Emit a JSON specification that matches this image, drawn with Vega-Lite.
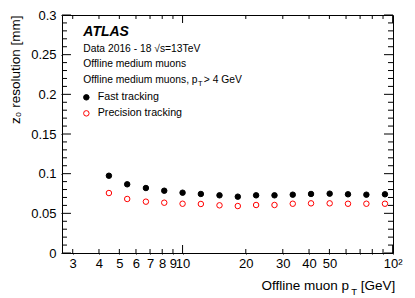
{
  "$schema": "https://vega.github.io/schema/vega-lite/v6.json",
  "width": 331,
  "height": 238,
  "autosize": {"type": "none"},
  "padding": {"left": 62, "top": 15, "right": 22, "bottom": 45},
  "background": "white",
  "config": {
    "font": "Liberation Sans",
    "view": {"stroke": "black", "strokeWidth": 1},
    "axis": {"domain": false, "grid": false, "ticks": true, "tickColor": "black", "tickWidth": 1, "labelColor": "black", "titleColor": "black", "labelFont": "Liberation Sans", "titleFont": "Liberation Sans", "titleFontWeight": "normal"}
  },
  "datasets": {
    "pts": [
      {"pt": 4.46, "res": 0.0974, "series": "Fast tracking"},
      {"pt": 5.45, "res": 0.0866, "series": "Fast tracking"},
      {"pt": 6.69, "res": 0.0819, "series": "Fast tracking"},
      {"pt": 8.18, "res": 0.0785, "series": "Fast tracking"},
      {"pt": 10.0, "res": 0.0760, "series": "Fast tracking"},
      {"pt": 12.22, "res": 0.0744, "series": "Fast tracking"},
      {"pt": 14.99, "res": 0.0727, "series": "Fast tracking"},
      {"pt": 18.32, "res": 0.0710, "series": "Fast tracking"},
      {"pt": 22.39, "res": 0.0727, "series": "Fast tracking"},
      {"pt": 27.39, "res": 0.0727, "series": "Fast tracking"},
      {"pt": 33.46, "res": 0.0735, "series": "Fast tracking"},
      {"pt": 40.88, "res": 0.0744, "series": "Fast tracking"},
      {"pt": 50.15, "res": 0.0748, "series": "Fast tracking"},
      {"pt": 61.3, "res": 0.0740, "series": "Fast tracking"},
      {"pt": 74.99, "res": 0.0735, "series": "Fast tracking"},
      {"pt": 91.93, "res": 0.0740, "series": "Fast tracking"},
      {"pt": 4.46, "res": 0.0756, "series": "Precision tracking"},
      {"pt": 5.45, "res": 0.0681, "series": "Precision tracking"},
      {"pt": 6.69, "res": 0.0647, "series": "Precision tracking"},
      {"pt": 8.18, "res": 0.0634, "series": "Precision tracking"},
      {"pt": 10.0, "res": 0.0621, "series": "Precision tracking"},
      {"pt": 12.22, "res": 0.0618, "series": "Precision tracking"},
      {"pt": 14.99, "res": 0.0601, "series": "Precision tracking"},
      {"pt": 18.32, "res": 0.0592, "series": "Precision tracking"},
      {"pt": 22.39, "res": 0.0605, "series": "Precision tracking"},
      {"pt": 27.39, "res": 0.0605, "series": "Precision tracking"},
      {"pt": 33.46, "res": 0.0621, "series": "Precision tracking"},
      {"pt": 40.88, "res": 0.0626, "series": "Precision tracking"},
      {"pt": 50.15, "res": 0.0626, "series": "Precision tracking"},
      {"pt": 61.3, "res": 0.0621, "series": "Precision tracking"},
      {"pt": 74.99, "res": 0.0621, "series": "Precision tracking"},
      {"pt": 91.93, "res": 0.0621, "series": "Precision tracking"}
    ],
    "xt": [
      {"v": 3}, {"v": 4}, {"v": 5}, {"v": 6}, {"v": 7}, {"v": 8}, {"v": 9}, {"v": 10},
      {"v": 20}, {"v": 30}, {"v": 40}, {"v": 50}, {"v": 60}, {"v": 70}, {"v": 80}, {"v": 90}, {"v": 100}
    ],
    "yt": [
      {"v": 0}, {"v": 0.01}, {"v": 0.02}, {"v": 0.03}, {"v": 0.04}, {"v": 0.05}, {"v": 0.06}, {"v": 0.07}, {"v": 0.08}, {"v": 0.09},
      {"v": 0.1}, {"v": 0.11}, {"v": 0.12}, {"v": 0.13}, {"v": 0.14}, {"v": 0.15}, {"v": 0.16}, {"v": 0.17}, {"v": 0.18}, {"v": 0.19},
      {"v": 0.2}, {"v": 0.21}, {"v": 0.22}, {"v": 0.23}, {"v": 0.24}, {"v": 0.25}, {"v": 0.26}, {"v": 0.27}, {"v": 0.28}, {"v": 0.29}, {"v": 0.3}
    ],
    "one": [{}]
  },
  "layer": [
    {
      "data": {"name": "pts"},
      "mark": {"type": "point", "shape": "circle", "size": 30, "strokeWidth": 1, "opacity": 1},
      "encoding": {
        "x": {
          "field": "pt", "type": "quantitative",
          "scale": {"type": "log", "domain": [2.667, 100.4], "nice": false},
          "axis": {
            "orient": "bottom", "title": null,
            "values": [3, 4, 5, 6, 7, 8, 9, 10, 20, 30, 40, 50, 60, 70, 80, 90, 100],
            "labelExpr": "datum.value == 100 ? '10²' : (datum.value <= 10 || datum.value == 20 || datum.value == 30 || datum.value == 40 || datum.value == 50 ? format(datum.value, 'd') : '')",
            "labelOverlap": false, "labelFlush": false,
            "labelFontSize": 13, "labelPadding": 3,
            "tickSize": 1
          }
        },
        "y": {
          "field": "res", "type": "quantitative",
          "scale": {"domain": [0, 0.3], "nice": false, "zero": false},
          "axis": {
            "orient": "left", "title": "z₀ resolution [mm]",
            "values": [0, 0.05, 0.1, 0.15, 0.2, 0.25, 0.3],
            "labelExpr": "format(datum.value, '.2~f')",
            "labelOverlap": false, "labelFlush": false,
            "labelFontSize": 13, "labelPadding": 5,
            "tickSize": 1,
            "titleFontSize": 13.5, "titleAnchor": "end", "titlePadding": 8
          }
        },
        "fill": {
          "field": "series", "type": "nominal",
          "scale": {"domain": ["Fast tracking", "Precision tracking"], "range": ["black", "white"]},
          "legend": {"orient": "none", "legendX": 19, "legendY": 77, "title": null, "labelFontSize": 10.7, "labelFont": "Liberation Sans", "labelColor": "black", "symbolSize": 30, "padding": 0, "rowPadding": 4, "labelOffset": 6, "symbolStrokeWidth": 1}
        },
        "stroke": {
          "field": "series", "type": "nominal",
          "scale": {"domain": ["Fast tracking", "Precision tracking"], "range": ["black", "#ff0000"]},
          "legend": {"orient": "none", "legendX": 19, "legendY": 77, "title": null, "labelFontSize": 10.7, "labelFont": "Liberation Sans", "labelColor": "black", "symbolSize": 30, "padding": 0, "rowPadding": 4, "labelOffset": 6, "symbolStrokeWidth": 1}
        }
      }
    },
    {
      "data": {"name": "xt"},
      "transform": [{"filter": "datum.v != 10 && datum.v != 100"}],
      "mark": {"type": "rule", "color": "black", "strokeWidth": 1},
      "encoding": {
        "x": {"field": "v", "type": "quantitative", "axis": null},
        "y": {"datum": 0, "type": "quantitative", "axis": null},
        "y2": {"datum": 0.00504}
      }
    },
    {
      "data": {"name": "xt"},
      "transform": [{"filter": "datum.v == 10 || datum.v == 100"}],
      "mark": {"type": "rule", "color": "black", "strokeWidth": 1},
      "encoding": {
        "x": {"field": "v", "type": "quantitative", "axis": null},
        "y": {"datum": 0, "type": "quantitative", "axis": null},
        "y2": {"datum": 0.01008}
      }
    },
    {
      "data": {"name": "xt"},
      "transform": [{"filter": "datum.v != 10 && datum.v != 100"}],
      "mark": {"type": "rule", "color": "black", "strokeWidth": 1},
      "encoding": {
        "x": {"field": "v", "type": "quantitative", "axis": null},
        "y": {"datum": 0.3, "type": "quantitative", "axis": null},
        "y2": {"datum": 0.29496}
      }
    },
    {
      "data": {"name": "xt"},
      "transform": [{"filter": "datum.v == 10 || datum.v == 100"}],
      "mark": {"type": "rule", "color": "black", "strokeWidth": 1},
      "encoding": {
        "x": {"field": "v", "type": "quantitative", "axis": null},
        "y": {"datum": 0.3, "type": "quantitative", "axis": null},
        "y2": {"datum": 0.28992}
      }
    },
    {
      "data": {"name": "yt"},
      "transform": [{"filter": "abs(datum.v * 20 - round(datum.v * 20)) > 0.001"}],
      "mark": {"type": "rule", "color": "black", "strokeWidth": 1},
      "encoding": {
        "y": {"field": "v", "type": "quantitative", "axis": null},
        "x": {"datum": 2.667, "type": "quantitative", "axis": null},
        "x2": {"datum": 2.817}
      }
    },
    {
      "data": {"name": "yt"},
      "transform": [{"filter": "abs(datum.v * 20 - round(datum.v * 20)) < 0.001"}],
      "mark": {"type": "rule", "color": "black", "strokeWidth": 1},
      "encoding": {
        "y": {"field": "v", "type": "quantitative", "axis": null},
        "x": {"datum": 2.667, "type": "quantitative", "axis": null},
        "x2": {"datum": 2.943}
      }
    },
    {
      "data": {"name": "yt"},
      "transform": [{"filter": "abs(datum.v * 20 - round(datum.v * 20)) > 0.001"}],
      "mark": {"type": "rule", "color": "black", "strokeWidth": 1},
      "encoding": {
        "y": {"field": "v", "type": "quantitative", "axis": null},
        "x": {"datum": 100.4, "type": "quantitative", "axis": null},
        "x2": {"datum": 95.05}
      }
    },
    {
      "data": {"name": "yt"},
      "transform": [{"filter": "abs(datum.v * 20 - round(datum.v * 20)) < 0.001"}],
      "mark": {"type": "rule", "color": "black", "strokeWidth": 1},
      "encoding": {
        "y": {"field": "v", "type": "quantitative", "axis": null},
        "x": {"datum": 100.4, "type": "quantitative", "axis": null},
        "x2": {"datum": 90.97}
      }
    },
    {
      "data": {"name": "one"},
      "mark": {"type": "text", "text": "ATLAS", "font": "Liberation Sans", "fontSize": 14, "fontWeight": "bold", "fontStyle": "italic", "align": "left", "baseline": "alphabetic", "color": "black"},
      "encoding": {"x": {"datum": 3.369, "type": "quantitative", "axis": null}, "y": {"datum": 0.2739, "type": "quantitative", "axis": null}}
    },
    {
      "data": {"name": "one"},
      "mark": {"type": "text", "text": "Data 2016 - 18 √s=13TeV", "font": "Liberation Sans", "fontSize": 10.3, "align": "left", "baseline": "alphabetic", "color": "black"},
      "encoding": {"x": {"datum": 3.369, "type": "quantitative", "axis": null}, "y": {"datum": 0.2537, "type": "quantitative", "axis": null}}
    },
    {
      "data": {"name": "one"},
      "mark": {"type": "text", "text": "Offline medium muons", "font": "Liberation Sans", "fontSize": 10.3, "align": "left", "baseline": "alphabetic", "color": "black"},
      "encoding": {"x": {"datum": 3.369, "type": "quantitative", "axis": null}, "y": {"datum": 0.2348, "type": "quantitative", "axis": null}}
    },
    {
      "data": {"name": "one"},
      "mark": {"type": "text", "text": "Offline medium muons, p", "font": "Liberation Sans", "fontSize": 10.3, "align": "left", "baseline": "alphabetic", "color": "black"},
      "encoding": {"x": {"datum": 3.369, "type": "quantitative", "axis": null}, "y": {"datum": 0.2147, "type": "quantitative", "axis": null}}
    },
    {
      "data": {"name": "one"},
      "mark": {"type": "text", "text": "T", "font": "Liberation Sans", "fontSize": 7.5, "align": "left", "baseline": "alphabetic", "color": "black"},
      "encoding": {"x": {"datum": 11.83, "type": "quantitative", "axis": null}, "y": {"datum": 0.2099, "type": "quantitative", "axis": null}}
    },
    {
      "data": {"name": "one"},
      "mark": {"type": "text", "text": "> 4 GeV", "font": "Liberation Sans", "fontSize": 10.3, "align": "left", "baseline": "alphabetic", "color": "black"},
      "encoding": {"x": {"datum": 12.63, "type": "quantitative", "axis": null}, "y": {"datum": 0.2147, "type": "quantitative", "axis": null}}
    },
    {
      "data": {"name": "one"},
      "mark": {"type": "text", "text": "Offline muon p", "font": "Liberation Sans", "fontSize": 13.5, "align": "left", "baseline": "alphabetic", "color": "black", "clip": false},
      "encoding": {"x": {"datum": 23.75, "type": "quantitative", "axis": null}, "y": {"datum": -0.0467, "type": "quantitative", "axis": null}}
    },
    {
      "data": {"name": "one"},
      "mark": {"type": "text", "text": "T", "font": "Liberation Sans", "fontSize": 9.5, "align": "left", "baseline": "alphabetic", "color": "black", "clip": false},
      "encoding": {"x": {"datum": 63.5, "type": "quantitative", "axis": null}, "y": {"datum": -0.053, "type": "quantitative", "axis": null}}
    },
    {
      "data": {"name": "one"},
      "mark": {"type": "text", "text": "[GeV]", "font": "Liberation Sans", "fontSize": 13.5, "align": "left", "baseline": "alphabetic", "color": "black", "clip": false},
      "encoding": {"x": {"datum": 70.46, "type": "quantitative", "axis": null}, "y": {"datum": -0.0467, "type": "quantitative", "axis": null}}
    }
  ],
  "resolve": {"axis": {"x": "independent", "y": "independent"}}
}
